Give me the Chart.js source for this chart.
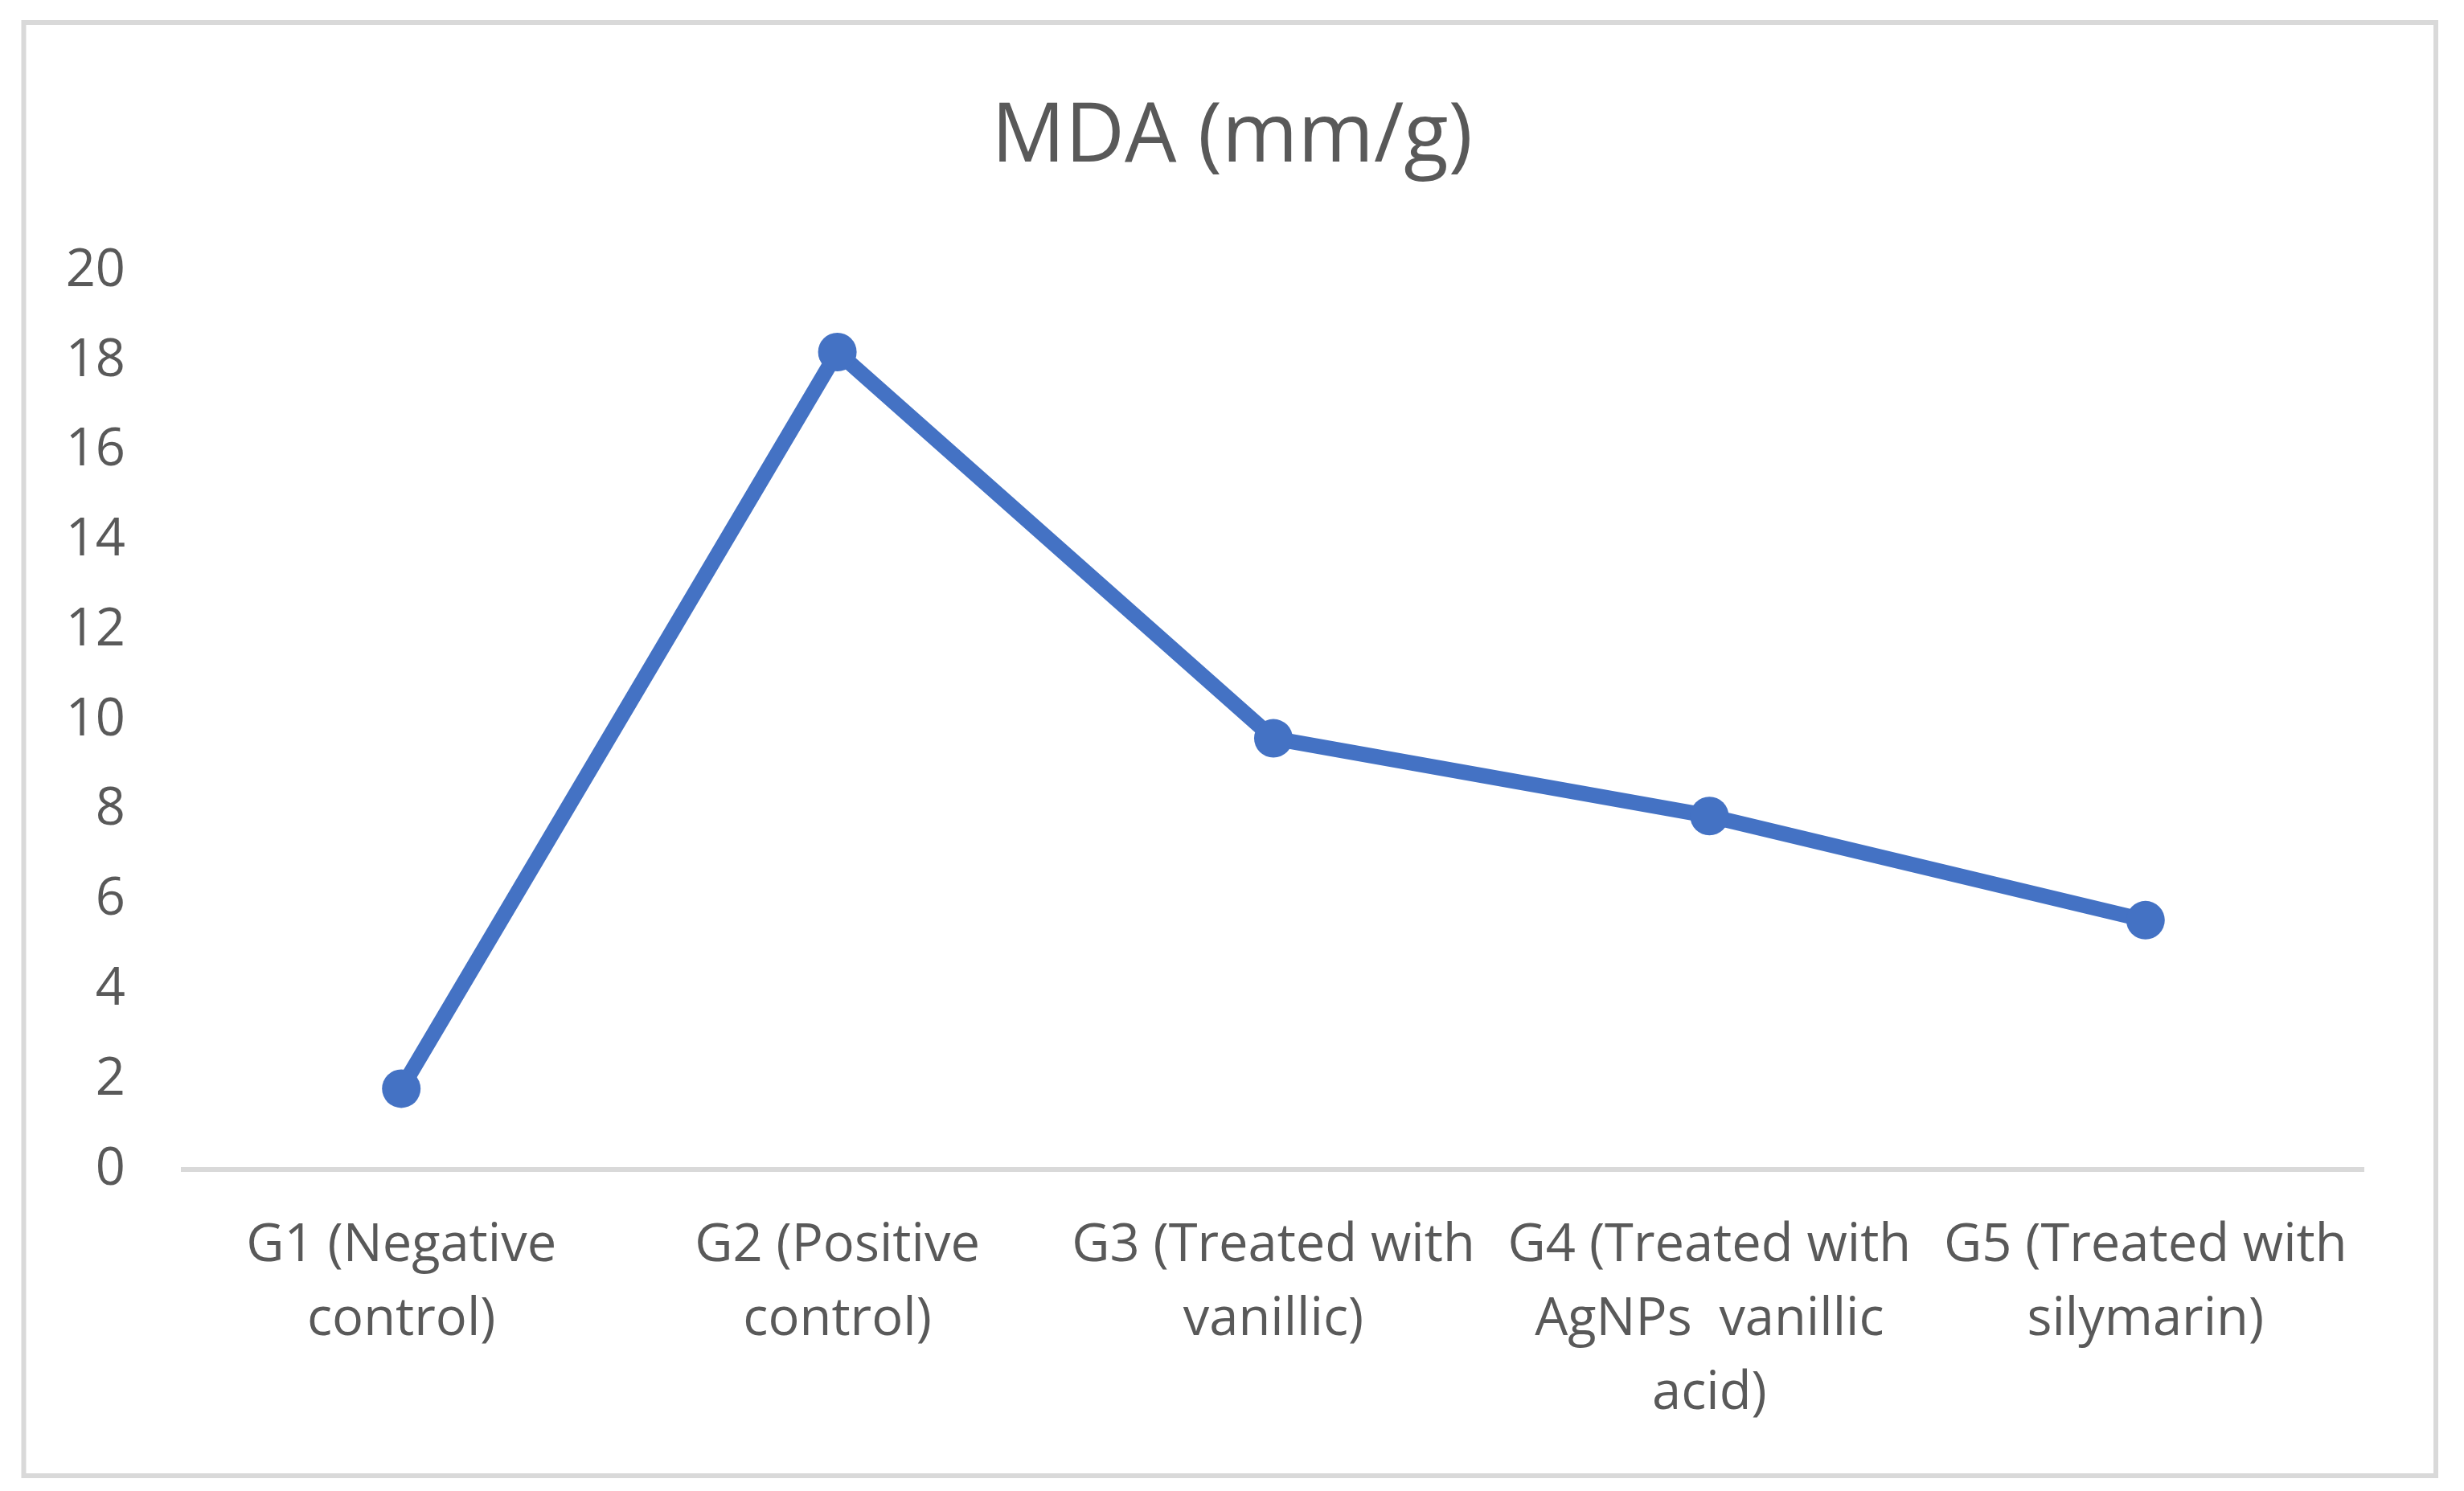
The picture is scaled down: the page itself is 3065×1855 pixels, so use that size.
<!DOCTYPE html>
<html>
<head>
<meta charset="utf-8">
<title>MDA (mm/g)</title>
<script src="https://cdn.jsdelivr.net/npm/chart.js@4.4.1/dist/chart.umd.min.js"></script>
<style>
    html, body {
        margin: 0;
        padding: 0;
        background: #ffffff;
    }
    canvas {
        display: block;
    }
</style>
</head>
<body>
<canvas id="mdaChart" width="3065" height="1855"></canvas>
<script>
    // data
    const groups = [
        ["G1 (Negative", "control)"],
        ["G2 (Positive", "control)"],
        ["G3 (Treated with", "vanillic)"],
        ["G4 (Treated with", "AgNPs  vanillic", "acid)"],
        ["G5 (Treated with", "silymarin)"],
    ];
    const mdaValues = [1.8, 18.2, 9.6, 7.87, 5.55];
    const yTicks = [0, 2, 4, 6, 8, 10, 12, 14, 16, 18, 20];

    const textColor = "#595959";
    const lineColor = "#4472C4";
    const frameColor = "#d9d9d9";
    const fontFamily = "'Open Sans', 'Noto Sans', sans-serif";

    // white background and the thin grey frame round the whole chart
    const framePlugin = {
        id: "frame",
        beforeDraw: (chart) => {
            const ctx = chart.ctx;
            ctx.save();
            ctx.fillStyle = "#ffffff";
            ctx.fillRect(0, 0, chart.width, chart.height);
            ctx.strokeStyle = frameColor;
            ctx.lineWidth = 6;
            ctx.strokeRect(29.5, 28, 3000.5, 1808);
            ctx.restore();
        },
    };

    const ctx = document.getElementById("mdaChart").getContext("2d");

    new Chart(ctx, {
        type: "line",
        data: {
            labels: groups,
            datasets: [
                {
                    label: "MDA (mm/g)",
                    data: mdaValues,
                    yAxisID: "y",
                    borderColor: lineColor,
                    backgroundColor: lineColor,
                    borderWidth: 19,
                    borderJoinStyle: "round",
                    borderCapStyle: "round",
                    tension: 0,
                    pointRadius: 24,
                    pointHoverRadius: 24,
                    pointBorderWidth: 0,
                    pointBackgroundColor: lineColor,
                },
            ],
        },
        options: {
            responsive: false,
            animation: false,
            devicePixelRatio: 1,
            layout: {
                padding: 0,
            },
            plugins: {
                legend: { display: false },
                tooltip: { enabled: false },
                title: {
                    display: true,
                    text: "MDA (mm/g)",
                    color: textColor,
                    font: { family: fontFamily, size: 102, weight: "normal", lineHeight: 1.2 },
                    padding: { top: 111, bottom: 104 },
                },
            },
            scales: {
                x: {
                    offset: true,
                    grid: { display: false, drawTicks: false },
                    border: { display: true, color: frameColor, width: 6 },
                    ticks: {
                        color: textColor,
                        font: { family: fontFamily, size: 65, lineHeight: 1.42 },
                        padding: 49,
                        maxRotation: 0,
                        minRotation: 0,
                        autoSkip: false,
                    },
                    afterFit: (scale) => {
                        scale.height = 400;
                    },
                },
                y: {
                    min: 0,
                    max: 20,
                    grid: { display: false, drawTicks: false },
                    border: { display: false },
                    afterBuildTicks: (scale) => {
                        scale.ticks = yTicks.map((v) => ({ value: v }));
                    },
                    ticks: {
                        color: textColor,
                        font: { family: fontFamily, size: 65 },
                        padding: 72,
                    },
                    afterFit: (scale) => {
                        scale.width = 228;
                    },
                },
                // empty right-hand strip so the title stays centred on the whole frame
                yRight: {
                    position: "right",
                    grid: { display: false, drawTicks: false },
                    border: { display: false },
                    ticks: { display: false },
                    afterFit: (scale) => {
                        scale.width = 125;
                    },
                },
            },
        },
        plugins: [framePlugin],
    });
</script>
</body>
</html>
